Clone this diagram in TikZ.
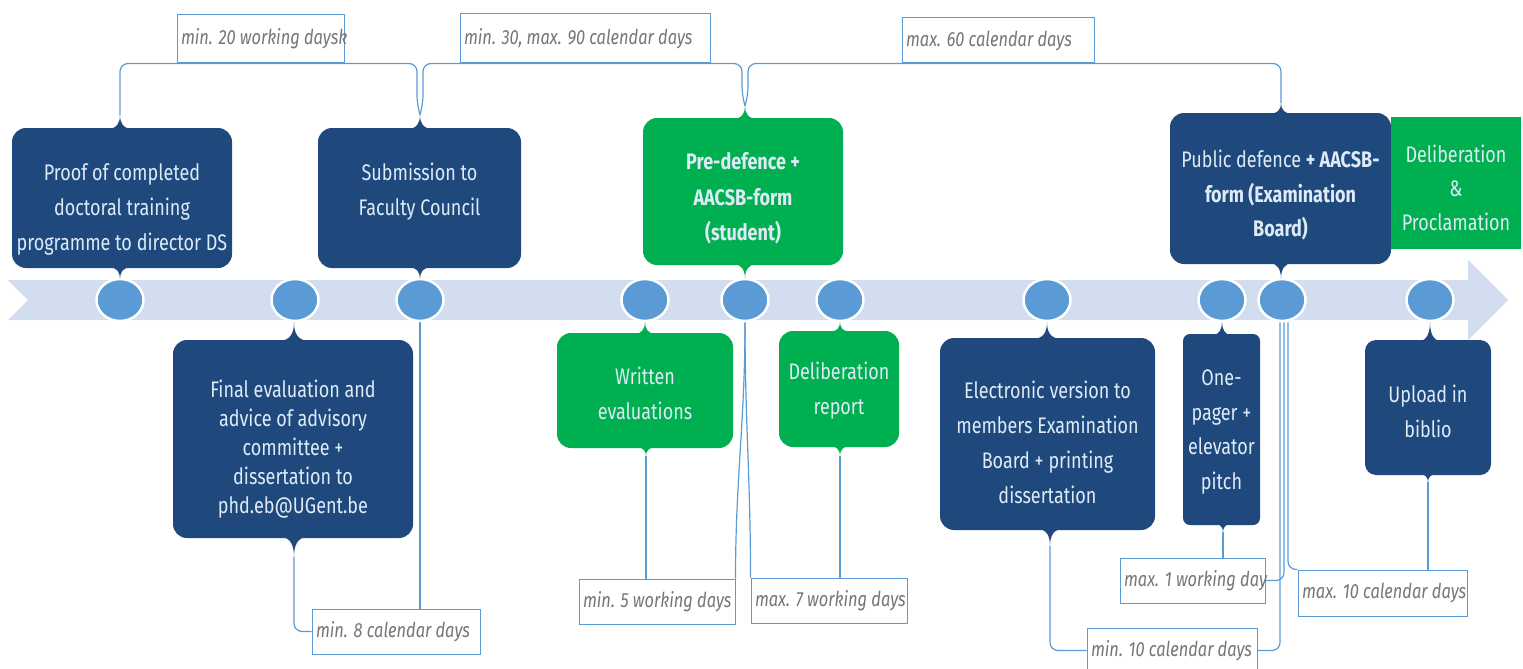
\documentclass[tikz,border=0pt]{standalone}
\usepackage{fontspec}
\setmainfont{Fira Sans}[FakeStretch=0.8]
\usetikzlibrary{shapes.geometric,backgrounds}
\definecolor{dblue}{RGB}{31,73,125}
\definecolor{egreen}{RGB}{0,176,80}
\definecolor{cblue}{RGB}{91,155,213}
\definecolor{bandc}{RGB}{210,222,239}
\definecolor{btext}{RGB}{222,235,247}
\definecolor{ltext}{RGB}{118,118,118}
% x, base y, tip y, half width, colour
\newcommand\cbump[5]{%
 \fill[#5] ({#1-#4},#2) .. controls ({#1-3},#2) and (#1,{#2+0.45*(#3-#2)}) .. (#1,#3)
   .. controls (#1,{#2+0.45*(#3-#2)}) and ({#1+3},#2) .. ({#1+#4},#2) -- cycle;}
\newcommand\ltxt[2]{\makebox[\dimexpr#1pt-8pt\relax][l]{#2}}
\tikzset{
 box/.style={rounded corners=14pt, inner sep=0pt, draw=none},
 bxt/.style={text=btext, align=center, inner sep=0pt, font=\fontsize{22.5}{35}\selectfont},
 lab/.style={draw=cblue, line width=1pt, fill=white, minimum width=#1, minimum height=45pt,
   inner xsep=3pt, inner ysep=0pt, text=ltext, font=\fontsize{20.5}{22}\selectfont\itshape},
 conn/.style={draw=cblue, line width=1.2pt, rounded corners=8pt},
 dot/.style={ellipse, fill=cblue, draw=white, line width=2.5pt, minimum width=47pt,
   minimum height=42pt, inner sep=0pt}
}
\begin{document}
\begin{tikzpicture}[x=1pt,y=-1pt]
\useasboundingbox (0,0) rectangle (1523,669);
% circles on the timeline
\foreach \n/\x in {c1/120,c2/295,c3/420,c4/645,c5/745,c6/840,c7/1047,c8/1222,c9/1282,c10/1430}
  \node[dot] (\n) at (\x,300) {};
% boxes
\node[box, fill=dblue, minimum width=220pt, minimum height=140pt] (b1) at (122,198) {};
\node[box, fill=dblue, minimum width=203pt, minimum height=140pt] (b2) at (419.5,198) {};
\node[box, fill=dblue, minimum width=240pt, minimum height=198pt] (b3) at (293,439) {};
\node[box, fill=egreen, minimum width=200pt, minimum height=147pt] (b4) at (743,191.5) {};
\node[box, fill=egreen, minimum width=176pt, minimum height=115pt] (b5) at (645,390.5) {};
\node[box, fill=egreen, minimum width=120pt, minimum height=116pt] (b6) at (839,389) {};
\node[box, fill=dblue, minimum width=215pt, minimum height=192pt] (b7) at (1047.5,434) {};
\node[box, fill=dblue, minimum width=77pt, minimum height=191pt, rounded corners=7pt] (b8) at (1221.5,429.5) {};
\node[box, fill=dblue, minimum width=126pt, minimum height=135pt, rounded corners=11pt] (b9) at (1428,407.5) {};
\node[box, fill=dblue, minimum width=221pt, minimum height=151pt] (b10) at (1280.5,188.5) {};
\node[box, fill=egreen, minimum width=130pt, minimum height=132pt, rounded corners=0pt] (b11) at (1456,183) {};
% pointer tips
\cbump{120}{129}{115}{13}{dblue}   \coordinate (b1t) at (120,115);
\cbump{120}{267}{279}{12}{dblue}
\cbump{420}{129}{115}{13}{dblue}   \coordinate (b2t) at (420,115);
\cbump{420}{267}{279}{12}{dblue}
\cbump{294}{341}{322}{16}{dblue}
\cbump{294}{537}{557}{14}{dblue}   \coordinate (b3b) at (294,557);
\cbump{745}{119}{106}{13}{egreen}  \coordinate (b4t) at (745,106);
\cbump{745}{264}{279}{12}{egreen}
\cbump{645}{334}{322}{11}{egreen}
\cbump{646}{447}{456}{10}{egreen}  \coordinate (b5b) at (646,456);
\cbump{840}{332}{322}{11}{egreen}
\cbump{840}{446}{456}{10}{egreen}  \coordinate (b6b) at (840,456);
\cbump{1047}{339}{322}{15}{dblue}
\cbump{1050}{529}{546}{13}{dblue}  \coordinate (b7b) at (1050,546);
\cbump{1222}{335}{322}{9}{dblue}
\cbump{1223}{524}{532}{7}{dblue}   \coordinate (b8b) at (1223,532);
\cbump{1430}{341}{322}{11}{dblue}
\cbump{1428}{474}{482}{8}{dblue}   \coordinate (b9b) at (1428,482);
\cbump{1281}{114}{103}{13}{dblue}  \coordinate (b10t) at (1281,103);
\cbump{1281}{263}{279}{12}{dblue}
% box texts
\node[bxt] (t1) at (122,209) {Proof of completed\\doctoral training\\programme to director DS};
\node[bxt] (t2) at (419.5,191.5) {Submission to\\Faculty Council};
\node[bxt, font=\fontsize{22.5}{29}\selectfont] (t3) at (293,449) {Final evaluation and\\advice of advisory\\committee +\\dissertation to\\phd.eb@UGent.be};
\node[bxt, font=\fontsize{22.5}{35.5}\selectfont\bfseries] (t4) at (743,198.5) {Pre-defence +\\AACSB-form\\(student)};
\node[bxt] (t5) at (645,393.5) {Written\\evaluations};
\node[bxt] (t6) at (839,390.5) {Deliberation\\report};
\node[bxt] (t7) at (1047.5,442) {Electronic version to\\members Examination\\Board + printing\\dissertation};
\node[bxt, font=\fontsize{22.5}{34.5}\selectfont] (t8) at (1221.5,432) {One-\\pager +\\elevator\\pitch};
\node[bxt] (t9) at (1428,411.5) {Upload in\\biblio};
\node[bxt, font=\fontsize{22.5}{34.5}\selectfont] (t10) at (1280.5,195.5) {Public defence \textbf{+ AACSB-}\\\textbf{form (Examination}\\\textbf{Board)}};
\node[bxt, font=\fontsize{22.5}{34}\selectfont] (t11) at (1456,188) {Deliberation\\\&\\Proclamation};
% labels
\node[lab=167pt, minimum height=48pt] (l1) at (260.5,39) {\ltxt{167}{min. 20 working daysk}};
\node[lab=250pt, minimum height=49pt] (l2) at (585,38.5) {\ltxt{250}{min. 30, max. 90 calendar days}};
\node[lab=192pt] (l3) at (998,40.5) {\ltxt{192}{max. 60 calendar days}};
\node[lab=168pt] (l4) at (396,631.5) {\ltxt{168}{min. 8 calendar days}};
\node[lab=156pt] (l5) at (657,601.5) {\ltxt{156}{min. 5 working days}};
\node[lab=156pt] (l6) at (829,600.5) {\ltxt{156}{max. 7 working days}};
\node[lab=145pt] (l7) at (1192.5,580.5) {\ltxt{145}{max. 1 working day}};
\node[lab=170pt] (l8) at (1172,650.5) {\ltxt{170}{min. 10 calendar days}};
\node[lab=169pt, minimum height=46pt] (l9) at (1382.5,593) {\ltxt{169}{max. 10 calendar days}};
% timeline band and connectors behind
\begin{scope}[on background layer]
\fill[bandc] (8,280) -- (1468,280) -- (1468,260) -- (1508,300) -- (1468,340) -- (1468,320) -- (8,320) -- (28,300) -- cycle;
\draw[conn] (b1t) |- (l1.south) -| ([shift={(-3,-12)}]b2t) -- (b2t);
\draw[conn] (b2t) -- ([shift={(3,-12)}]b2t) |- (l2.south) -| ([shift={(-3,-12)}]b4t) -- (b4t);
\draw[conn] (b4t) -- ([shift={(3,-12)}]b4t) |- (l3.south) -| (b10t);
\draw[conn] (b3b) |- (l4.west);
\draw[conn] (c3.south) -- (c3.south |- l4.north);
\draw[conn] (b5b) -- (b5b |- l5.north);
\draw[conn] (c5.south) to[out=-90,in=90] (l5.north east);
\draw[conn] (c5.south) to[out=-90,in=90] (l6.north west);
\draw[conn] (b6b) -- (b6b |- l6.north);
\draw[conn] (b8b) -- (b8b |- l7.north);
\draw[conn] ([xshift=2pt]c9.south) |- (l7.east);
\draw[conn] ([xshift=-2pt]c9.south) |- (l8.east);
\draw[conn] ([xshift=6pt]c9.south) |- (l9.north west);
\draw[conn] (b7b) |- (l8.west);
\draw[conn] (b9b) -- (b9b |- l9.north);
\end{scope}
\end{tikzpicture}
\end{document}
